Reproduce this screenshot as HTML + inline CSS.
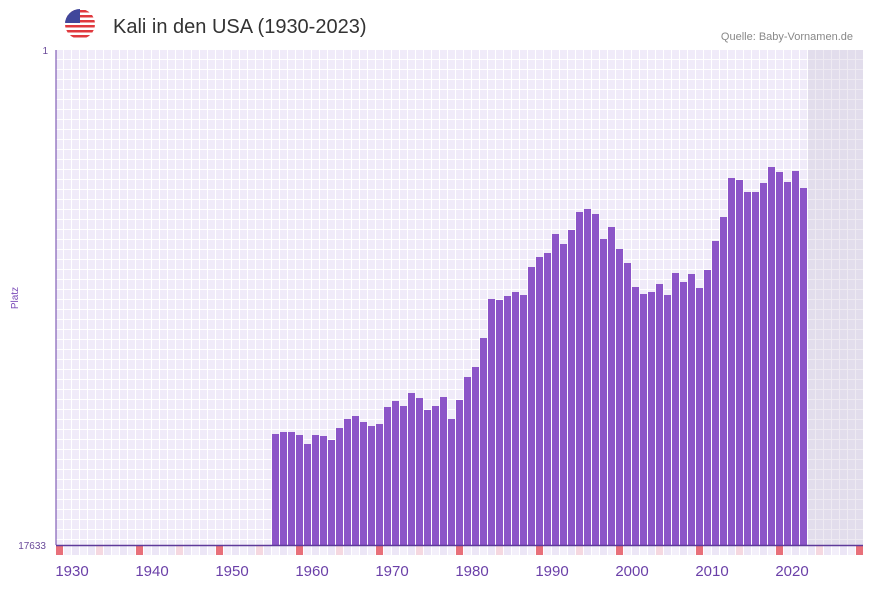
<!DOCTYPE html>
<html><head><meta charset="utf-8"><style>
body{margin:0;background:#fff;font-family:"Liberation Sans",sans-serif}
</style></head><body>
<svg id="s" width="873" height="587" xmlns="http://www.w3.org/2000/svg">
<defs>
<pattern id="g" x="56" y="50" width="8" height="10" patternUnits="userSpaceOnUse">
<rect width="8" height="10" fill="#fff"/><rect x="0" y="0" width="7" height="9" fill="#f0ebf9"/>
</pattern>
<pattern id="g2" x="56" y="50" width="8" height="10" patternUnits="userSpaceOnUse">
<rect width="8" height="10" fill="#eeeaf2"/><rect x="0" y="0" width="7" height="9" fill="#e2ddec"/>
</pattern>
</defs>
<rect x="56" y="50" width="752" height="495" fill="url(#g)"/>
<rect x="808" y="50" width="55" height="495" fill="url(#g2)"/>
<g id="bars" fill="#8c55c8"></g>
<g id="mk"></g>
<line x1="56" y1="50" x2="56" y2="545" stroke="#6a3fa8" stroke-width="1"/>
<line x1="56" y1="545.5" x2="863" y2="545.5" stroke="#5e3a9a" stroke-width="1.5"/>
<text x="48" y="54" font-size="10" fill="#6a4a9a" text-anchor="end">1</text>
<text x="46" y="549" font-size="10" fill="#6a4a9a" text-anchor="end">17633</text>
<text x="18" y="298" font-size="10" fill="#7a4ab8" text-anchor="middle" transform="rotate(-90 18 298)">Platz</text>
<g font-size="15" fill="#6a3fa8" text-anchor="middle" id="xl"></g>
<text x="113" y="33" font-size="20" fill="#333">Kali in den USA (1930-2023)</text>
<text x="853" y="40" font-size="11" fill="#888" text-anchor="end">Quelle: Baby-Vornamen.de</text>
<circle cx="80" cy="24" r="15" fill="#fff"/>
<g>
<clipPath id="c"><circle cx="80" cy="24" r="15"/></clipPath>
<g clip-path="url(#c)">
<rect x="65" y="9" width="30" height="30" fill="#fff"/>
<rect x="65" y="10" width="30" height="2.5" fill="#e0393e"/>
<rect x="65" y="15" width="30" height="2.5" fill="#e0393e"/>
<rect x="65" y="20" width="30" height="2.5" fill="#e0393e"/>
<rect x="65" y="25" width="30" height="2.5" fill="#e0393e"/>
<rect x="65" y="30" width="30" height="2.5" fill="#e0393e"/>
<rect x="65" y="35" width="30" height="2.5" fill="#e0393e"/>
<rect x="65" y="9" width="15" height="14" fill="#41479b"/>
</g></g>
</svg>
<script>
var t=[434,432,432,435,444,435,436,440,428,419,416,422,426,424,407,401,406,393,398,410,406,397,419,400,377,367,338,299,300,296,292,295,267,257,253,234,244,230,212,209,214,239,227,249,263,287,294,292,284,295,273,282,274,288,270,241,217,178,180,192,192,183,167,172,182,171,188];
var ns="http://www.w3.org/2000/svg",b=document.getElementById('bars'),m=document.getElementById('mk'),xl=document.getElementById('xl');
function el(p,tag,a){var e=document.createElementNS(ns,tag);for(var k in a)e.setAttribute(k,a[k]);p.appendChild(e);return e;}
t.forEach(function(y,i){el(b,'rect',{x:272+i*8,y:y,width:7,height:545-y});});
for(var i=0;i<101;i++){var x=56+i*8;if(x>=863)break;var yr=1928+i;var c=(yr%10==8)?'#e8707a':(yr%10==3)?'#f5d8e0':(i%2?'#f3effa':'#ece6f6');el(m,'rect',{x:x,y:546,width:7,height:9,fill:c});}
for(var y=1930;y<=2020;y+=10){var e=el(xl,'text',{x:72+(y-1930)*8,y:576});e.textContent=y;}
</script>
</body></html>
